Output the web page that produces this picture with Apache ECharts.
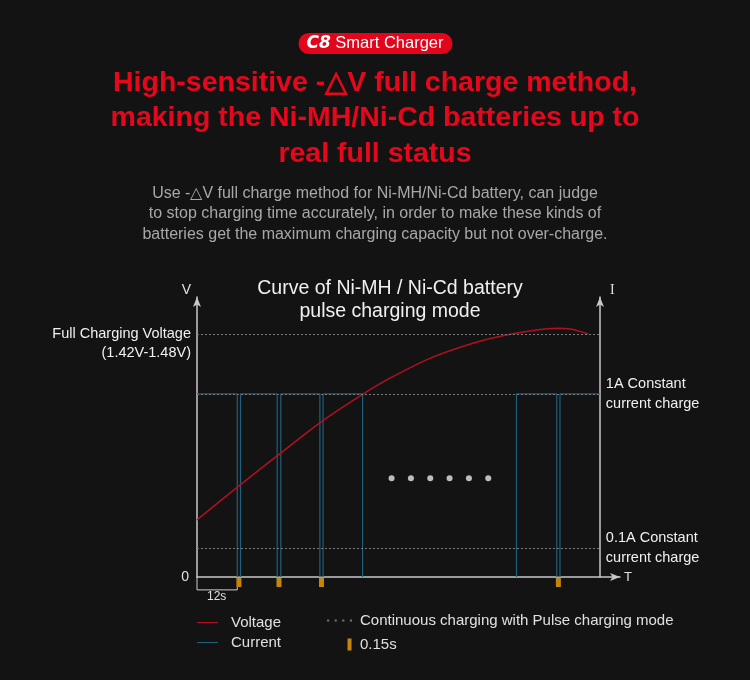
<!DOCTYPE html>
<html>
<head>
<meta charset="utf-8">
<script src="https://cdn.jsdelivr.net/npm/echarts@6/dist/echarts.min.js"></script>
<style>
  html, body { margin: 0; padding: 0; background: #131313; }
  #chart { width: 750px; height: 680px; }
</style>
</head>
<body>
<div id="chart"></div>
<script>
// schematic units: x = time (0..105), y = level (0..100)
const voltageT = [0, 10.2, 20.2, 30.9, 41.3, 47.9, 57.8, 68.5, 76.8, 84.3, 89.3, 92.6, 97.1];
const voltageV = [20.4, 32.3, 43.6, 55.5, 65.4, 71.0, 78.1, 83.5, 86.4, 88.2, 88.8, 88.6, 86.8];

// current: 1A level with short 0.15s drops every 12s, gap for the "......" part
const currentT = [0, 10.0, 10.0, 10.8, 10.8, 19.9, 19.9, 20.8, 20.8, 30.5, 30.5, 31.3, 31.3, 41.1, 41.1, null,
  79.3, 79.3, 89.3, 89.3, 90.1, 90.1, 100];
const currentI = [65.4, 65.4, 0, 0, 65.4, 65.4, 0, 0, 65.4, 65.4, 0, 0, 65.4, 65.4, 0, null,
  0, 65.4, 65.4, 0, 0, 65.4, 65.4];

const pulseT = [10.4, 20.35, 30.9, 89.7];
const dotsT = [48.3, 53.1, 57.9, 62.7, 67.5, 72.3];
const dotsY = 35.3;

const fullLevel = 86.8;
const oneALevel = 65.4;
const tenthALevel = 10.4;
const bracketT = [0, 0, 10, 10];
const bracketY = [0, -4.6, -4.6, -3.6];

const axisColor = '#c8c8c8';
const font = 'Liberation Sans, Arial, sans-serif';

const chartDom = document.getElementById('chart');
const myChart = echarts.init(chartDom);

function hLine(level, text, pos) {
  return [
    { coord: [0, level], label: { show: !!text, formatter: text, position: pos } },
    { coord: [100, level] }
  ];
}

const option = {
  backgroundColor: '#131313',
  animation: false,
  textStyle: { fontFamily: font },
  title: [
    {
      text: '{logo|C8} Smart Charger',
      left: 'center',
      top: 33,
      backgroundColor: '#e3051b',
      borderRadius: 11,
      padding: [2, 9, 2, 8],
      textStyle: {
        color: '#fff', fontSize: 16.5, fontWeight: 'normal', fontFamily: font,
        rich: {
          logo: { color: '#fff', fontSize: 17, fontWeight: 'bold', fontStyle: 'italic', fontFamily: 'DejaVu Sans, sans-serif' }
        }
      }
    },
    {
      text: 'High-sensitive -\u25B3V full charge method,\nmaking the Ni-MH/Ni-Cd batteries up to\nreal full status',
      left: 'center',
      top: 60,
      textStyle: { color: '#e5071b', fontSize: 28.5, fontWeight: 'bold', lineHeight: 35.5, fontFamily: font }
    },
    {
      text: 'Use -\u25B3V full charge method for Ni-MH/Ni-Cd battery, can judge\nto stop charging time accurately, in order to make these kinds of\nbatteries get the maximum charging capacity but not over-charge.',
      left: 'center',
      top: 178,
      textStyle: { color: '#a8a8a8', fontSize: 16, fontWeight: 'normal', lineHeight: 20.5, fontFamily: font }
    },
    {
      text: 'Curve of Ni-MH / Ni-Cd battery\npulse charging mode',
      left: 385,
      top: 272,
      textAlign: 'center',
      textStyle: { color: '#f0f0f0', fontSize: 19.5, fontWeight: 'normal', lineHeight: 23, fontFamily: font }
    }
  ],
  legend: [
    {
      orient: 'vertical',
      left: 197,
      top: 615,
      padding: 0,
      itemWidth: 21,
      itemHeight: 1,
      itemGap: 5,
      textStyle: { color: '#e0e0e0', fontSize: 15, padding: [0, 0, 0, 8] },
      data: [
        { name: 'Voltage', icon: 'rect' },
        { name: 'Current', icon: 'rect' }
      ]
    },
    {
      orient: 'vertical',
      left: 327,
      top: 613,
      padding: 0,
      itemWidth: 25,
      itemHeight: 12,
      itemGap: 9,
      textStyle: { color: '#e0e0e0', fontSize: 15, padding: [0, 0, 0, 3] },
      data: [
        {
          name: 'Continuous charging with Pulse charging mode',
          icon: 'path://M0,0h2v2h-2z M7,0h2v2h-2z M14,0h2v2h-2z M21,0h2v2h-2z',
          itemStyle: { color: '#8a8a8a' }
        },
        {
          name: '0.15s',
          icon: 'path://M0,0h0.01v0.01h-0.01z M20,0h4v12h-4z'
        }
      ]
    }
  ],
  grid: { left: 197, right: 130, top: 297, bottom: 103 },
  xAxis: {
    type: 'value',
    min: 0,
    max: 105,
    name: 'T',
    nameGap: 4,
    nameTextStyle: { color: '#e0e0e0', fontSize: 13 },
    axisLine: { lineStyle: { color: axisColor, width: 1.5 }, symbol: ['none', 'arrow'], symbolSize: [6, 10] },
    axisTick: { show: false },
    axisLabel: { show: false },
    splitLine: { show: false }
  },
  yAxis: [
    {
      type: 'value',
      min: 0,
      max: 100,
      interval: 100,
      name: 'V',
      nameLocation: 'end',
      nameGap: 0,
      nameTextStyle: { color: '#e0e0e0', fontSize: 14, align: 'right', padding: [0, 6, 0, 0] },
      axisLine: { show: true, lineStyle: { color: axisColor, width: 1.5 }, symbol: ['none', 'arrow'], symbolSize: [6, 10] },
      axisTick: { show: false },
      axisLabel: { color: '#e0e0e0', fontSize: 14, margin: 8, formatter: v => (v === 0 ? '0' : '') },
      splitLine: { show: false }
    },
    {
      type: 'value',
      min: 0,
      max: 100,
      position: 'right',
      offset: -20,
      name: 'I',
      nameLocation: 'end',
      nameGap: 0,
      nameTextStyle: { color: '#e0e0e0', fontSize: 14, fontFamily: 'Liberation Serif, serif', align: 'left', padding: [0, 0, 0, 10] },
      axisLine: { show: true, lineStyle: { color: axisColor, width: 1.5 }, symbol: ['none', 'arrow'], symbolSize: [6, 10] },
      axisTick: { show: false },
      axisLabel: { show: false },
      splitLine: { show: false }
    }
  ],
  series: [
    {
      name: 'Current',
      type: 'line',
      data: currentT.map((t, i) => [t, currentI[i]]),
      connectNulls: false,
      showSymbol: false,
      color: '#1f5f80',
      lineStyle: { width: 1.2, color: '#1f5f80' },
      z: 2,
      silent: true
    },
    {
      name: 'Voltage',
      type: 'line',
      data: voltageT.map((t, i) => [t, voltageV[i]]),
      smooth: 0.3,
      showSymbol: false,
      color: '#b3101f',
      lineStyle: { width: 1.5, color: '#b3101f' },
      z: 4,
      silent: true,
      markLine: {
        silent: true,
        symbol: 'none',
        lineStyle: { color: '#7a7a7a', width: 1, type: [2, 2] },
        label: { color: '#f0f0f0', fontSize: 14.5, lineHeight: 19.5, distance: 6 },
        data: [
          hLine(fullLevel, '\nFull Charging Voltage\n(1.42V-1.48V)', 'start'),
          hLine(oneALevel, '1A Constant\ncurrent charge', 'end'),
          hLine(tenthALevel, '0.1A Constant\ncurrent charge', 'end')
        ]
      }
    },
    {
      name: 'Continuous charging with Pulse charging mode',
      type: 'scatter',
      data: dotsT.map(t => [t, dotsY]),
      symbol: 'circle',
      symbolSize: 6,
      color: '#e8e8e8',
      silent: true
    },
    {
      name: '0.15s',
      type: 'scatter',
      data: pulseT.map(t => [t, 0]),
      symbol: 'rect',
      symbolSize: [5, 10],
      symbolOffset: [0, 5],
      color: '#f2a20c',
      clip: false,
      z: 5,
      silent: true
    },
    {
      name: 'bracket',
      type: 'line',
      data: bracketT.map((t, i) => [t, bracketY[i]]),
      showSymbol: false,
      clip: false,
      lineStyle: { color: '#cfcfcf', width: 1 },
      silent: true
    }
  ],
  graphic: [
    {
      type: 'text',
      left: 207,
      top: 591,
      style: { text: '12s', fill: '#e0e0e0', fontSize: 12, fontFamily: font }
    }
  ]
};

myChart.setOption(option);
</script>
</body>
</html>
